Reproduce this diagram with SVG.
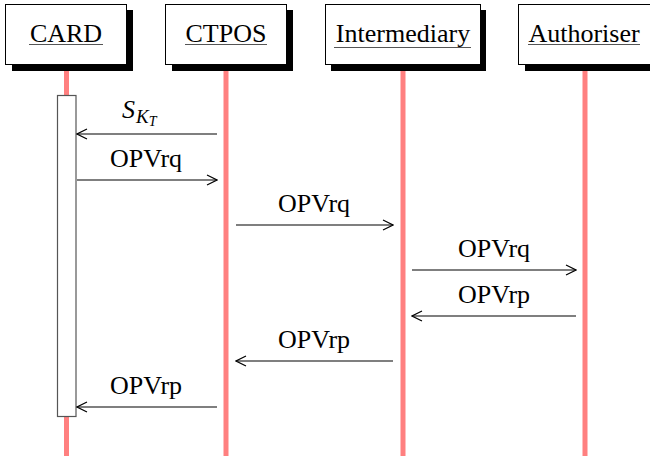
<svg xmlns="http://www.w3.org/2000/svg" width="650" height="456" viewBox="0 0 650 456">
<style>
.box{fill:#fff;stroke:#000;stroke-width:1}
.shadow{fill:#000}
.life{stroke:#ff8080;stroke-width:5}
.name{font-family:"Liberation Serif",serif;font-size:26px;fill:#000;text-anchor:middle}
.ul{stroke:#555;stroke-width:1.2}
.msg{stroke:#000;stroke-width:1.2;fill:none;marker-end:url(#arr)}
.lbl{font-family:"Liberation Serif",serif;font-size:26px;fill:#000;text-anchor:middle}
.act{fill:#fff;stroke:#555;stroke-width:1.2}
</style>
<defs>
<marker id="arr" viewBox="0 0 12 12" refX="11" refY="6" markerWidth="12" markerHeight="12" markerUnits="userSpaceOnUse" orient="auto">
<path d="M1,1 L11,6 L1,11" fill="none" stroke="#000" stroke-width="1.2"/>
</marker>
</defs>
<g id="lifelines">
<line class="life" x1="66.5" y1="65" x2="66.5" y2="456"/>
<line class="life" x1="226" y1="65" x2="226" y2="456"/>
<line class="life" x1="403" y1="65" x2="403" y2="456"/>
<line class="life" x1="585" y1="65" x2="585" y2="456"/>
</g>
<g id="card">
<rect class="shadow" x="12" y="10" width="121" height="61"/>
<rect class="box" x="5.5" y="4.5" width="121" height="60"/>
<text class="name" x="66" y="41.5">CARD</text>
<line class="ul" x1="29" y1="44.5" x2="103" y2="44.5"/>
</g>
<g id="ctpos">
<rect class="shadow" x="172" y="10" width="121" height="61"/>
<rect class="box" x="165.5" y="4.5" width="121" height="60"/>
<text class="name" x="226" y="41.5">CTPOS</text>
<line class="ul" x1="185" y1="44.5" x2="267" y2="44.5"/>
</g>
<g id="intermediary">
<rect class="shadow" x="331" y="10" width="155" height="61"/>
<rect class="box" x="325.5" y="4.5" width="155" height="60"/>
<text class="name" x="403" y="41.5">Intermediary</text>
<line class="ul" x1="334" y1="47.5" x2="471" y2="47.5"/>
</g>
<g id="authoriser">
<rect class="shadow" x="525" y="10" width="140" height="61"/>
<rect class="box" x="518.5" y="4.5" width="140" height="60"/>
<text class="name" x="584" y="41.5">Authoriser</text>
<line class="ul" x1="528" y1="44.5" x2="640" y2="44.5"/>
</g>
<g id="activation">
<rect class="act" x="57.5" y="95.5" width="18.5" height="321"/>
</g>
<g id="connectors">
<line class="msg" x1="217" y1="134" x2="77" y2="134"/>
<line class="msg" x1="77" y1="180" x2="217" y2="180"/>
<line class="msg" x1="236" y1="225" x2="393" y2="225"/>
<line class="msg" x1="412" y1="270" x2="576" y2="270"/>
<line class="msg" x1="576" y1="316" x2="412" y2="316"/>
<line class="msg" x1="393" y1="361" x2="236" y2="361"/>
<line class="msg" x1="217" y1="407" x2="77" y2="407"/>
</g>
<g id="labels">
<text font-family="Liberation Serif,serif" font-style="italic" font-size="26" x="122" y="118">S<tspan font-size="19" dx="1" dy="5">K</tspan><tspan font-size="14" dy="3">T</tspan></text>
<text class="lbl" x="146" y="167">OPVrq</text>
<text class="lbl" x="314" y="212">OPVrq</text>
<text class="lbl" x="494" y="257">OPVrq</text>
<text class="lbl" x="494" y="303">OPVrp</text>
<text class="lbl" x="314" y="348">OPVrp</text>
<text class="lbl" x="146" y="394">OPVrp</text>
</g>
</svg>
